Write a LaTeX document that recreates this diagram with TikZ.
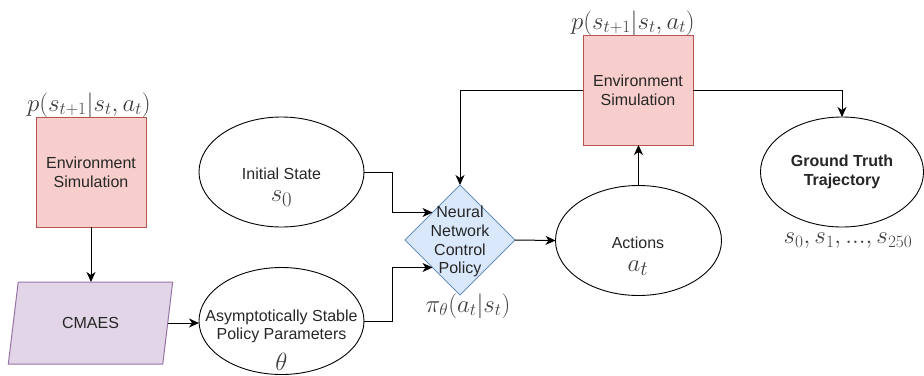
\documentclass[tikz,border=0pt]{standalone}
\usepackage{fontspec}
\setmainfont{Liberation Sans}
\usetikzlibrary{shapes.geometric,arrows.meta}

\definecolor{simfill}{HTML}{F8CECC}
\definecolor{simline}{HTML}{B85450}
\definecolor{optfill}{HTML}{E1D5E7}
\definecolor{optline}{HTML}{9673A6}
\definecolor{polfill}{HTML}{DAE8FC}
\definecolor{polline}{HTML}{6C8EBF}
\definecolor{ink}{HTML}{262626}
\definecolor{mathink}{HTML}{404040}

\begin{document}
\begin{tikzpicture}[x=1pt,y=-1pt,
  every node/.style={inner sep=0pt, outer sep=0pt, text=ink},
  txt/.style={font=\fontsize{16}{19}\selectfont, align=center},
  bigmath/.style={font=\fontsize{28}{32}\selectfont, text=mathink},
  lblmath/.style={font=\fontsize{25}{30}\selectfont, text=mathink},
  simbox/.style={rectangle, draw=simline, fill=simfill, line width=1pt,
    minimum width=110pt, minimum height=110pt, txt},
  oval/.style={ellipse, draw=black, line width=0.9pt,
    minimum width=165pt, minimum height=110pt},
  conn/.style={line width=1pt, -{Stealth[length=10pt,width=9pt,inset=3pt]}},
]
\useasboundingbox (0,0) rectangle (924,375);

% left branch: simulator feeding the optimiser
\node[simbox] (envL) at (91,172) {Environment\\Simulation};
\node[lblmath] (envLp) at (89,105) {$p(s_{t+1}|s_t,a_t)$};
\node[trapezium, trapezium left angle=71, trapezium right angle=109,
  trapezium stretches=true, minimum width=165pt, minimum height=82pt,
  draw=optline, fill=optfill, line width=1pt, txt] (cmaes) at (90.5,323) {CMAES};

% inputs of the policy
\node[oval] (init) at (281.5,172) {};
\node[txt, anchor=base] (initT) at (281.5,179) {Initial State};
\node[bigmath, anchor=base] (initM) at (281.5,201.7) {$s_0$};

\node[oval, minimum height=107pt] (asym) at (281.5,321) {};
\node[txt, anchor=base] (asymT1) at (281.5,321) {Asymptotically Stable};
\node[txt, anchor=base] (asymT2) at (281.5,339.5) {Policy Parameters};
\node[bigmath, anchor=base] (asymM) at (281.5,370.5) {$\theta$};

% policy network
\node[diamond, draw=polline, fill=polfill, line width=1pt,
  minimum width=110pt, minimum height=110pt] (nn) at (460,240) {};
\node[txt, anchor=base] (nnT1) at (460,217) {Neural};
\node[txt, anchor=base] (nnT2) at (460,236) {Network};
\node[txt, anchor=base] (nnT3) at (460,255) {Control};
\node[txt, anchor=base] (nnT4) at (460,273.5) {Policy};
\node[lblmath] (nnp) at (468,306) {$\pi_\theta(a_t|s_t)$};

% actions and rollout
\node[oval, minimum width=166pt] (act) at (638.5,240.5) {};
\node[txt, anchor=base] (actT) at (638,248.3) {Actions};
\node[bigmath, anchor=base] (actM) at (638,271) {$a_t$};

\node[simbox] (envR) at (638,90) {Environment\\Simulation};
\node[lblmath] (envRp) at (633,23) {$p(s_{t+1}|s_t,a_t)$};

\node[oval, minimum width=163pt, font=\fontsize{16}{19}\selectfont\bfseries,
  align=center] (gt) at (842,172) {Ground Truth\\Trajectory};
\node[lblmath] (gtp) at (848,241) {$s_0, s_1, ..., s_{250}$};

% connectors
\draw[conn] (envL.south) -- (envL.south |- cmaes.north);
\draw[conn] (cmaes.east) -- (cmaes.east -| asym.west);
\draw[conn] (init.east) -- ++(28,0) |- (nn.north west);
\draw[conn] (asym.east) -- ++(28,0) |- (nn.south west);
\draw[conn] (nn.east) -- (act.west);
\draw[conn] (act.north) -- (act.north |- envR.south);
\draw[conn] (envR.west) -| (nn.north);
\draw[conn] (envR.east) -| (gt.north);
\end{tikzpicture}
\end{document}
